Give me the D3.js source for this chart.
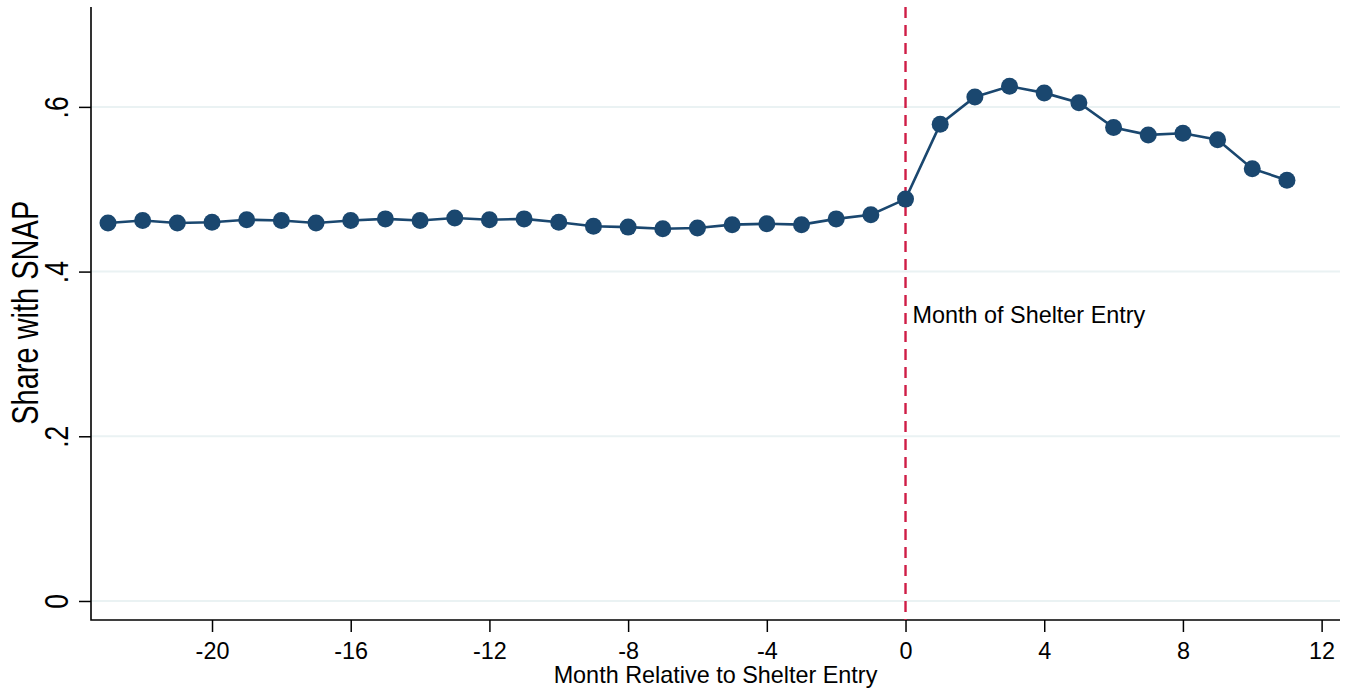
<!DOCTYPE html>
<html>
<head>
<meta charset="utf-8">
<script src="https://cdn.jsdelivr.net/npm/d3@7"></script>
<style>
  body { margin: 0; background: #fff; }
  text { font-family: "Liberation Sans", Arial, sans-serif; fill: #000; }
</style>
</head>
<body>
<svg id="chart"></svg>
<script>
// Months relative to shelter entry and share with SNAP
const months = [-23, -22, -21, -20, -19, -18, -17, -16, -15, -14, -13, -12, -11, -10, -9, -8, -7, -6,
                -5, -4, -3, -2, -1, 0, 1, 2, 3, 4, 5, 6, 7, 8, 9, 10, 11];
const snapShare = [0.459, 0.462, 0.459, 0.460, 0.463, 0.462, 0.459, 0.462, 0.464, 0.462, 0.465, 0.463,
                   0.464, 0.460, 0.455, 0.454, 0.452, 0.453, 0.457, 0.458, 0.457, 0.464, 0.469, 0.488,
                   0.579, 0.612, 0.625, 0.617, 0.605, 0.575, 0.566, 0.568, 0.560, 0.525, 0.511];
const xTicks = [-20, -16, -12, -8, -4, 0, 4, 8, 12];
const yTicks = [0, 0.2, 0.4, 0.6];
const eventMonth = 0;
const eventLabel = 'Month of Shelter Entry';

const width = 1351, height = 691;
const plot = {left: 91, right: 1340, top: 7, bottom: 620};

const svg = d3.select('#chart')
    .attr('width', width)
    .attr('height', height);

// Scales (Stata style ranges, a bit past the data)
const xScale = d3.scaleLinear()
    .domain([-23.49, 12.53])
    .range([plot.left, plot.right]);

const yScale = d3.scaleLinear()
    .domain([-0.0231, 0.7213])
    .range([plot.bottom, plot.top]);

// Gridlines
svg.append('g')
    .selectAll('line')
    .data(yTicks)
    .join('line')
    .attr('x1', plot.left)
    .attr('x2', plot.right)
    .attr('y1', d => yScale(d))
    .attr('y2', d => yScale(d))
    .attr('stroke', '#eaf2f3')
    .attr('stroke-width', 2);

// Y axis, labels rotated and a little stretched like the Stata export
const yAxis = d3.axisLeft(yScale)
    .tickValues(yTicks)
    .tickSize(12)
    .tickFormat(d => d === 0 ? '0' : d3.format('.1f')(d).replace(/^0/, ''));

const yAxisG = svg.append('g')
    .attr('transform', `translate(${plot.left},0)`)
    .call(yAxis);
yAxisG.select('.domain').remove();
yAxisG.selectAll('.tick line').attr('stroke', '#000').attr('stroke-width', 1.5);
yAxisG.selectAll('.tick text')
    .attr('x', 0).attr('dy', null)
    .attr('transform', 'translate(-23,0) rotate(-90) scale(1,1.22)')
    .attr('text-anchor', 'middle')
    .style('font-size', '26.5px')
    .style('font-family', '"Liberation Sans", Arial, sans-serif');

// X axis
const xAxis = d3.axisBottom(xScale)
    .tickValues(xTicks)
    .tickSize(12)
    .tickPadding(9);

const xAxisG = svg.append('g')
    .attr('transform', `translate(0,${plot.bottom})`)
    .call(xAxis);
xAxisG.select('.domain').remove();
xAxisG.selectAll('.tick line').attr('stroke', '#000').attr('stroke-width', 1.5);
xAxisG.selectAll('.tick text')
    .attr('y', 39).attr('dy', null)
    .text(d => d < 0 ? '-' + Math.abs(d) : d)
    .style('font-size', '23.4px')
    .style('font-family', '"Liberation Sans", Arial, sans-serif');

// Axis lines
svg.append('path')
    .attr('d', `M${plot.left},${plot.top}V${plot.bottom}H${plot.right}`)
    .attr('fill', 'none')
    .attr('stroke', '#000')
    .attr('stroke-width', 1.6);

// Event line
svg.append('line')
    .attr('x1', xScale(eventMonth))
    .attr('x2', xScale(eventMonth))
    .attr('y1', plot.top)
    .attr('y2', plot.bottom)
    .attr('stroke', '#cf1d46')
    .attr('stroke-width', 2.4)
    .attr('stroke-dasharray', '11,7');

svg.append('text')
    .attr('x', xScale(eventMonth) + 7)
    .attr('y', 323)
    .style('font-size', '23.4px')
    .text(eventLabel);

// Series line and markers
const line = d3.line()
    .x((d, i) => xScale(months[i]))
    .y(d => yScale(d));

svg.append('path')
    .datum(snapShare)
    .attr('d', line)
    .attr('fill', 'none')
    .attr('stroke', '#1a476f')
    .attr('stroke-width', 2.6);

svg.append('g')
    .selectAll('circle')
    .data(snapShare)
    .join('circle')
    .attr('cx', (d, i) => xScale(months[i]))
    .attr('cy', d => yScale(d))
    .attr('r', 8.5)
    .attr('fill', '#1a476f');

// Axis titles
svg.append('text')
    .attr('x', (plot.left + plot.right) / 2)
    .attr('y', 683)
    .attr('text-anchor', 'middle')
    .style('font-size', '23.4px')
    .text('Month Relative to Shelter Entry');

svg.append('text')
    .attr('transform', `translate(38,${yScale(0.35)}) rotate(-90) scale(1,1.25)`)
    .attr('text-anchor', 'middle')
    .style('font-size', '29px')
    .text('Share with SNAP');
</script>
</body>
</html>
